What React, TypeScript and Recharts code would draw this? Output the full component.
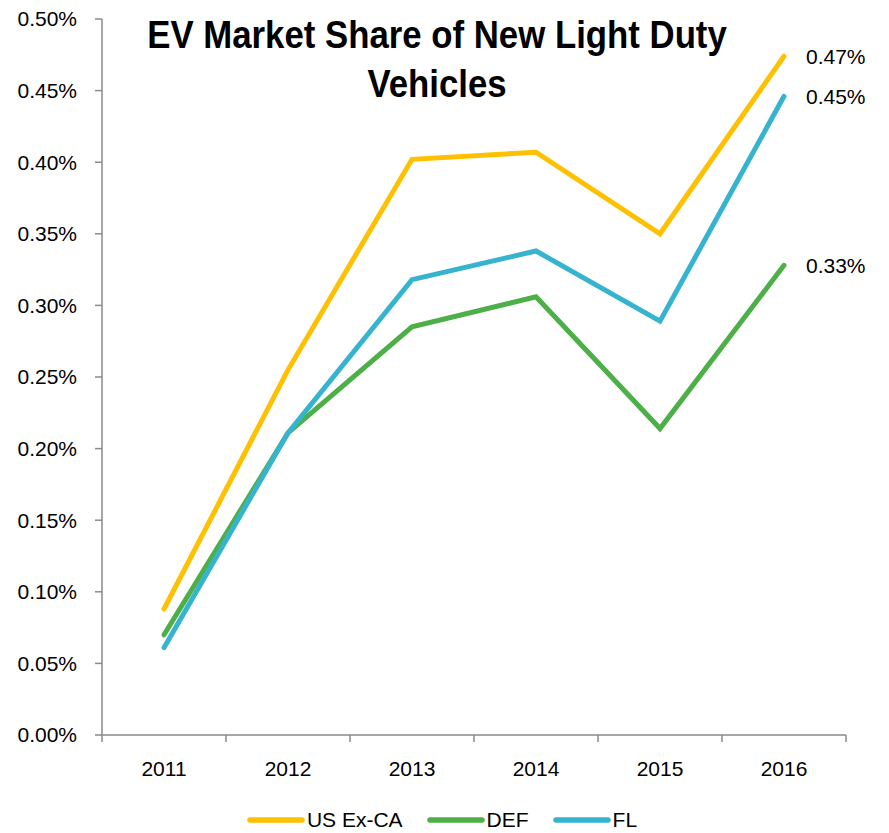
import React from 'react';
import { LineChart, Line, XAxis, YAxis, Legend, LabelList } from 'recharts';

const years = ['2011', '2012', '2013', '2014', '2015', '2016'];
const usExCa = [0.088, 0.255, 0.402, 0.407, 0.350, 0.474];
const def = [0.070, 0.211, 0.285, 0.306, 0.214, 0.328];
const fl = [0.061, 0.211, 0.318, 0.338, 0.289, 0.446];
const yTicks = [0, 0.05, 0.1, 0.15, 0.2, 0.25, 0.3, 0.35, 0.4, 0.45, 0.5];

const series = [
  { key: 'usExCa', name: 'US Ex-CA', color: '#FFC000' },
  { key: 'def', name: 'DEF', color: '#4DAF47' },
  { key: 'fl', name: 'FL', color: '#36B3CF' },
];

const data = years.map((year, i) => ({ year, usExCa: usExCa[i], def: def[i], fl: fl[i] }));

const W = 889;
const H = 833;
const margin = { top: 19, right: 43, left: 10, bottom: 0 };
const yAxisWidth = 92;
const plotWidth = W - margin.left - margin.right - yAxisWidth;
const halfBand = plotWidth / years.length / 2;

const FONT = "'Liberation Sans', Arial, sans-serif";
const AXIS = '#8a8a8a';

const fmt = (v: number) => `${v.toFixed(2)}%`;

// category labels sit in the middle of each band, tick marks on the band edges
const YearTick = (props: any) => {
  const { x, y, payload, index } = props;
  return (
    <g>
      <line x1={x - halfBand} x2={x - halfBand} y1={y} y2={y + 7} stroke={AXIS} strokeWidth={1.5} />
      {index === years.length - 1 && (
        <line x1={x + halfBand} x2={x + halfBand} y1={y} y2={y + 7} stroke={AXIS} strokeWidth={1.5} />
      )}
      <text x={x} y={y + 41} textAnchor="middle" fill="#000" fontSize={21} fontFamily={FONT}>
        {payload.value}
      </text>
    </g>
  );
};

// only the last point of each series gets a value label
const EndLabel = (props: any) => {
  const { x, y, value, index } = props;
  if (index !== years.length - 1) return null;
  return (
    <text x={x + 22} y={y} dy="0.355em" fill="#000" fontSize={21} fontFamily={FONT}>
      {fmt(value)}
    </text>
  );
};

const LegendRow = () => (
  <div style={{ height: 48, display: 'flex', justifyContent: 'center', alignItems: 'flex-end', paddingLeft: 52 }}>
    {series.map((s) => (
      <div key={s.key} style={{ display: 'flex', alignItems: 'center', marginRight: 24, height: 26 }}>
        <svg width={58} height={10}>
          <line x1={3} x2={55} y1={5} y2={5} stroke={s.color} strokeWidth={5.5} strokeLinecap="round" />
        </svg>
        <span style={{ fontFamily: FONT, fontSize: 21, color: '#000', marginLeft: 2 }}>{s.name}</span>
      </div>
    ))}
  </div>
);

export default function App() {
  return (
    <div style={{ position: 'absolute', left: 0, top: 0, width: W, height: H, background: '#fff' }}>
      <LineChart width={W} height={H} data={data} margin={margin}>
        <XAxis
          dataKey="year"
          padding={{ left: halfBand, right: halfBand }}
          stroke={AXIS}
          strokeWidth={1.5}
          tickLine={false}
          tickSize={0}
          tickMargin={0}
          height={50}
          interval={0}
          tick={<YearTick />}
        />
        <YAxis
          domain={[0, 0.5]}
          ticks={yTicks}
          tickFormatter={fmt}
          width={yAxisWidth}
          stroke={AXIS}
          strokeWidth={1.5}
          tickSize={7}
          tickMargin={18}
          tick={{ fill: '#000', fontSize: 21, fontFamily: FONT }}
        />
        <Legend verticalAlign="bottom" content={<LegendRow />} />
        {series.map((s) => (
          <Line
            key={s.key}
            dataKey={s.key}
            name={s.name}
            stroke={s.color}
            strokeWidth={5}
            strokeLinecap="round"
            strokeLinejoin="miter"
            dot={false}
            activeDot={false}
            isAnimationActive={false}
          >
            <LabelList dataKey={s.key} content={<EndLabel />} />
          </Line>
        ))}
      </LineChart>
      <div
        style={{
          position: 'absolute',
          left: 0,
          width: W - 15,
          top: 11,
          textAlign: 'center',
          fontFamily: FONT,
          fontWeight: 'bold',
          fontSize: 38,
          lineHeight: '49px',
          color: '#000',
          transform: 'scaleX(0.915)',
        }}
      >
        EV Market Share of New Light Duty
        <br />
        Vehicles
      </div>
    </div>
  );
}
